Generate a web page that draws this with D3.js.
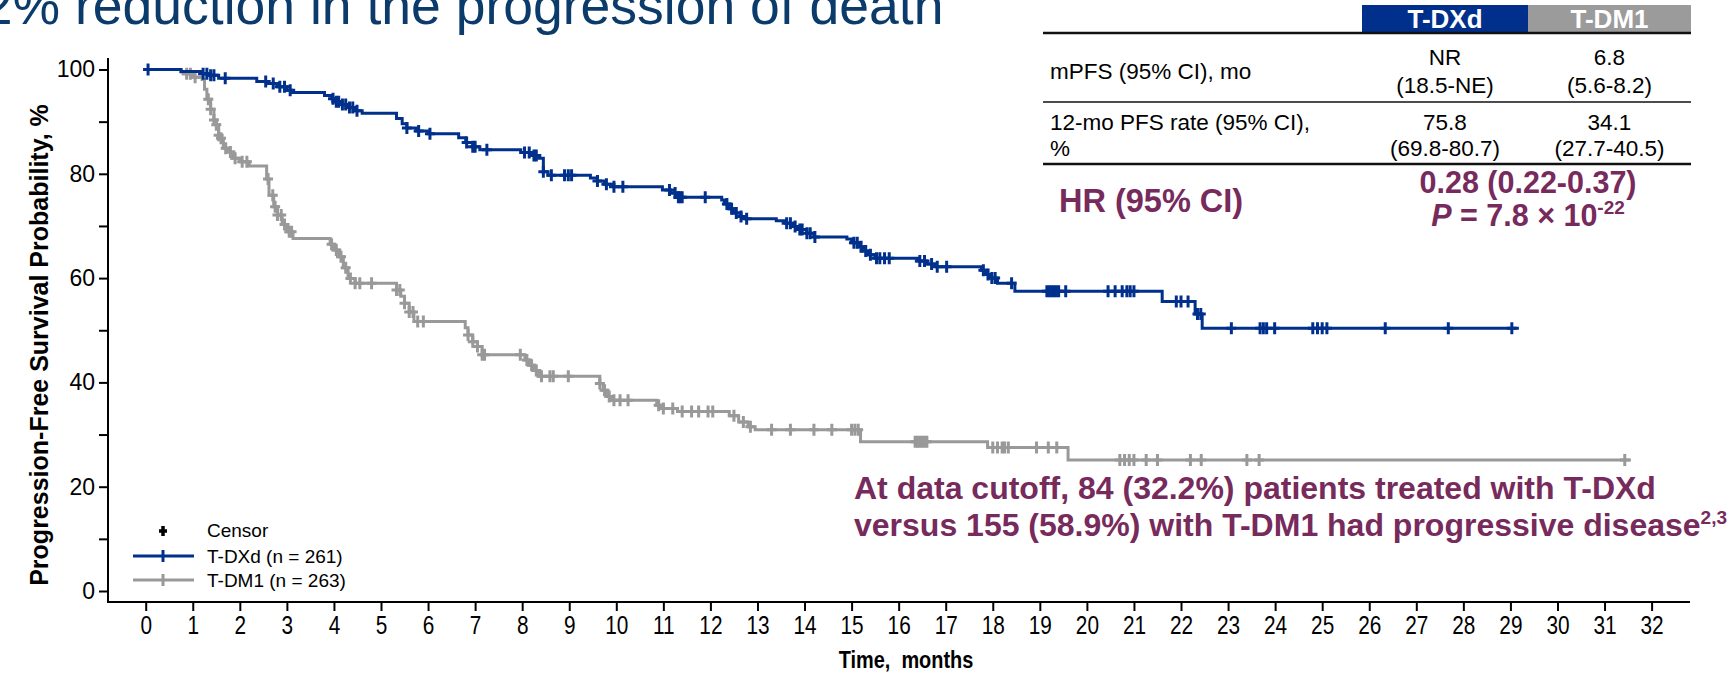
<!DOCTYPE html>
<html>
<head>
<meta charset="utf-8">
<script src="https://cdn.jsdelivr.net/npm/d3@7"></script>
<style>
  html, body { margin: 0; padding: 0; background: #fff; }
  svg { display: block; }
  text { font-family: "Liberation Sans", Arial, Helvetica, sans-serif; }
</style>
</head>
<body>
<svg id="chart" width="1733" height="674"></svg>
<script>
// ---- data -------------------------------------------------------------
const monthTicks = d3.range(0, 33);
const pctTicks = d3.range(0, 101, 10);

const armNames = ["T-DXd", "T-DM1"];
const armLegend = ["T-DXd (n = 261)", "T-DM1 (n = 263)"];

// Kaplan-Meier steps: [month, PFS % after the drop]
const tdxdSteps = [
  [0, 100], [0.75, 99.6], [1.2, 99.2], [1.35, 98.9], [1.55, 98.3], [2.36, 97.7],
  [2.6, 97.3], [2.8, 96.7], [3.0, 96.0], [3.1, 95.6], [3.8, 95.0], [3.95, 94.4],
  [4.05, 93.8], [4.15, 93.3], [4.3, 92.7], [4.45, 92.1], [4.6, 91.6], [5.33, 90.6],
  [5.45, 89.6], [5.55, 88.8], [5.75, 88.2], [6.0, 87.7], [6.65, 86.9], [6.8, 86.0],
  [6.95, 85.2], [7.1, 84.6], [7.97, 84.1], [8.2, 83.5], [8.35, 83.0], [8.45, 80.4],
  [8.55, 79.7], [9.45, 79.2], [9.6, 78.6], [9.75, 78.0], [9.95, 77.5], [10.98, 76.9],
  [11.15, 76.3], [11.3, 75.5], [12.24, 75.0], [12.3, 74.2], [12.4, 73.3], [12.5, 72.5],
  [12.65, 71.8], [12.75, 71.4], [13.4, 71.0], [13.6, 70.5], [13.75, 69.9], [13.9, 69.3],
  [14.05, 68.6], [14.2, 67.9], [14.9, 67.5], [15.0, 66.8], [15.15, 66.0], [15.25, 65.2],
  [15.35, 64.5], [15.5, 63.8], [16.4, 63.3], [16.6, 62.7], [16.8, 62.2], [17.76, 61.5],
  [17.85, 60.7], [17.95, 60.0], [18.1, 59.0], [18.47, 57.5], [21.6, 55.5], [22.3, 53.1],
  [22.45, 50.4]
];
const tdxdEnd = 29.18;
const tdxdCensors = [
  0.05, 1.22, 1.3, 1.38, 1.45, 1.69, 2.55, 2.71, 2.85, 2.95, 3.07, 3.98, 4.05, 4.1,
  4.18, 4.25, 4.33, 4.4, 4.49, 5.55, 5.8, 6.04, 6.82, 6.95, 7.0, 7.25, 8.05, 8.15,
  8.25, 8.3, 8.45, 8.62, 8.9, 8.98, 9.05, 9.6, 9.79, 9.95, 10.14, 11.13, 11.25, 11.32,
  11.36, 11.4, 11.89, 12.35, 12.45, 12.55, 12.65, 12.77, 13.62, 13.7, 13.8, 13.9,
  13.95, 14.05, 14.12, 14.22, 15.05, 15.12, 15.2, 15.3, 15.4, 15.53, 15.6, 15.7, 15.8,
  16.45, 16.55, 16.7, 16.82, 17.02, 17.8, 17.9, 17.98, 18.05, 18.4, 19.15, 19.2,
  19.25, 19.3, 19.35, 19.4, 19.55, 20.45, 20.6, 20.75, 20.85, 20.92, 21.0, 21.9, 22.0,
  22.15, 22.35, 22.42, 23.07, 23.68, 23.75, 23.82, 23.99, 24.8, 24.9, 25.0, 25.1,
  26.34, 27.68, 29.03
];

const tdm1Steps = [
  [0, 100], [0.75, 99.5], [0.8, 99.2], [1.0, 98.5], [1.2, 98.1], [1.25, 96.2],
  [1.3, 94.3], [1.38, 92.4], [1.45, 90.3], [1.5, 89.4], [1.55, 87.4], [1.6, 86.8],
  [1.65, 84.9], [1.75, 84.2], [1.85, 83.0], [2.0, 82.3], [2.2, 81.5], [2.57, 79.0],
  [2.62, 75.9], [2.72, 73.7], [2.8, 72.1], [2.9, 70.3], [3.0, 68.9], [3.13, 67.6],
  [3.92, 66.5], [4.0, 65.4], [4.1, 64.1], [4.2, 62.0], [4.3, 59.9], [4.45, 59.0],
  [5.33, 57.7], [5.42, 56.5], [5.5, 55.2], [5.6, 53.5], [5.7, 51.7], [6.79, 50.5],
  [6.85, 49.1], [6.95, 47.8], [7.05, 46.9], [7.15, 45.3], [8.06, 44.3], [8.15, 43.3],
  [8.25, 42.3], [8.35, 41.2], [9.65, 39.8], [9.72, 38.5], [9.8, 37.3], [9.9, 36.6],
  [10.86, 35.6], [11.0, 35.0], [11.3, 34.4], [12.4, 33.6], [12.6, 32.4], [12.8, 31.5],
  [12.95, 30.9], [15.19, 28.6], [17.89, 27.5], [19.6, 25.1]
];
const tdm1End = 31.56;
const tdm1Censors = [
  0.87, 0.95, 1.05, 1.33, 1.38, 1.45, 1.5, 1.55, 1.6, 1.7, 1.8, 1.9, 2.05, 2.15, 2.6,
  2.7, 2.75, 2.8, 2.88, 2.95, 3.05, 3.1, 3.95, 4.05, 4.15, 4.25, 4.35, 4.45, 4.55, 4.8,
  5.33, 5.4, 5.5, 5.6, 5.68, 5.78, 5.9, 6.85, 6.95, 7.05, 7.15, 7.2, 7.96, 8.1, 8.2,
  8.3, 8.41, 8.59, 8.66, 8.98, 9.65, 9.75, 9.85, 9.95, 10.08, 10.25, 10.9, 11.0, 11.2,
  11.4, 11.6, 11.75, 11.95, 12.05, 12.5, 12.7, 12.85, 13.3, 13.7, 14.2, 14.58, 15.0,
  15.07, 15.14, 16.35, 16.4, 16.45, 16.5, 16.55, 16.6, 18.0, 18.1, 18.2, 18.25, 18.33,
  18.93, 19.18, 19.36, 20.7, 20.8, 20.9, 21.0, 21.26, 21.5, 22.2, 22.43, 23.4, 23.66,
  31.43
];

// summary table
const tableRowLabels = [["mPFS (95% CI), mo"], ["12-mo PFS rate (95% CI),", "%"]];
const tdxdTable = [["NR", "(18.5-NE)"], ["75.8", "(69.8-80.7)"]];
const tdm1Table = [["6.8", "(5.6-8.2)"], ["34.1", "(27.7-40.5)"]];
const hrLabel = "HR (95% CI)";
const hrValue = "0.28 (0.22-0.37)";
const pValue = { lead: "P", mid: " = 7.8 × 10", exp: "-22" };

const titleText = "72% reduction in the progression of death";
const noteLines = ["At data cutoff, 84 (32.2%) patients treated with T-DXd",
                   "versus 155 (58.9%) with T-DM1 had progressive disease"];
const noteRef = "2,3";

// ---- style ----------------------------------------------------------------
const BLUE = "#00308c";
const GREY = "#999999";
const PURPLE = "#772a5c";
const NAVY = "#0b3b6b";
const CONDENSE = 0.8;   // horizontal squeeze for the time-axis lettering

const svg = d3.select("#chart");

const x = d3.scaleLinear().domain([0, 32]).range([145.7, 1651.6]);
const y = d3.scaleLinear().domain([0, 100]).range([591, 69.5]);

// ---- title (runs off the top of the page) ---------------------------------
svg.append("text")
  .attr("x", -47).attr("y", 24)
  .attr("font-size", 53.5).attr("fill", NAVY)
  .text(titleText);

// ---- axes -------------------------------------------------------------
const AX_X = 108, AX_Y = 602;

const gx = svg.append("g").attr("transform", `translate(0,${AX_Y})`)
  .call(d3.axisBottom(x).tickValues(monthTicks).tickSize(9).tickPadding(5).tickFormat(d3.format("d")));
gx.select(".domain").remove();
gx.selectAll(".tick line").attr("stroke", "#000").attr("stroke-width", 2);
gx.selectAll(".tick text").attr("font-size", 26).attr("fill", "#000")
  .attr("transform", `scale(${CONDENSE},1)`);

const gy = svg.append("g").attr("transform", `translate(${AX_X},0)`)
  .call(d3.axisLeft(y).tickValues(pctTicks).tickSize(9).tickPadding(4)
    .tickFormat(d => d % 20 === 0 ? d : ""));
gy.select(".domain").remove();
gy.selectAll(".tick line").attr("stroke", "#000").attr("stroke-width", 2);
gy.selectAll(".tick text").attr("font-size", 23).attr("fill", "#000");

svg.append("line").attr("x1", AX_X).attr("x2", 1690).attr("y1", AX_Y).attr("y2", AX_Y)
  .attr("stroke", "#000").attr("stroke-width", 2);
svg.append("line").attr("x1", AX_X).attr("x2", AX_X).attr("y1", 58).attr("y2", AX_Y + 1)
  .attr("stroke", "#000").attr("stroke-width", 2);

svg.append("text")
  .attr("transform", `translate(906,668) scale(${CONDENSE + 0.03},1)`)
  .attr("text-anchor", "middle")
  .attr("font-weight", "bold").attr("font-size", 24)
  .style("white-space", "pre")
  .text("Time,  months");

svg.append("text")
  .attr("transform", "translate(48,345) rotate(-90)")
  .attr("text-anchor", "middle").attr("font-weight", "bold").attr("font-size", 25)
  .text("Progression-Free Survival Probability, %");

// ---- curves -------------------------------------------------------------
function levelAt(steps, t) {
  let v = steps[0][1];
  for (const s of steps) { if (s[0] <= t) v = s[1]; else break; }
  return v;
}
const stepLine = d3.line().x(d => x(d[0])).y(d => y(d[1])).curve(d3.curveStepAfter);

const series = [
  { steps: tdm1Steps, end: tdm1End, censors: tdm1Censors, color: GREY },
  { steps: tdxdSteps, end: tdxdEnd, censors: tdxdCensors, color: BLUE }
];

function censorPath(cx, cy, h, w) {
  return `M${cx},${cy - h}V${cy + h}M${cx - w},${cy}H${cx + w}`;
}

series.forEach(s => {
  const pts = s.steps.concat([[s.end, s.steps[s.steps.length - 1][1]]]);
  svg.append("path").datum(pts)
    .attr("d", stepLine)
    .attr("fill", "none").attr("stroke", s.color).attr("stroke-width", 3);
  svg.append("g").selectAll("path").data(s.censors).join("path")
    .attr("d", t => censorPath(x(t), y(levelAt(s.steps, t)), 6, 5))
    .attr("stroke", s.color).attr("stroke-width", 3).attr("fill", "none");
});

// ---- legend ---------------------------------------------------------------
const lg = svg.append("g");
lg.append("path").attr("d", censorPath(163, 531, 5, 4))
  .attr("stroke", "#000").attr("stroke-width", 3.5);
lg.append("text").attr("x", 207).attr("y", 537).attr("font-size", 19).text("Censor");
[BLUE, GREY].forEach((c, i) => {
  const ly = 556 + i * 24;
  lg.append("line").attr("x1", 133).attr("x2", 194).attr("y1", ly).attr("y2", ly)
    .attr("stroke", c).attr("stroke-width", 3);
  lg.append("path").attr("d", censorPath(163, ly, 6, 0))
    .attr("stroke", c).attr("stroke-width", 3);
  lg.append("text").attr("x", 207).attr("y", ly + 7).attr("font-size", 19).text(armLegend[i]);
});

// ---- summary table ----------------------------------------------------------
const tb = svg.append("g");
const colL = 1043, colA = 1362, colB = 1528, colR = 1691;
const headerFill = [BLUE, "#9b9b9b"];
[[colA, colB], [colB, colR]].forEach((c, i) => {
  tb.append("rect").attr("x", c[0]).attr("y", 5).attr("width", c[1] - c[0]).attr("height", 27)
    .attr("fill", headerFill[i]);
  tb.append("text").attr("x", (c[0] + c[1]) / 2).attr("y", 28)
    .attr("text-anchor", "middle").attr("font-weight", "bold").attr("font-size", 26)
    .attr("fill", "#fff").text(armNames[i]);
});
[[33, 2.5], [102, 1.5], [164, 2.5]].forEach(r => {
  tb.append("line").attr("x1", colL).attr("x2", colR).attr("y1", r[0]).attr("y2", r[0])
    .attr("stroke", "#111").attr("stroke-width", r[1]);
});
const rowBase = [[65, 93], [130, 156]];
const labelBase = [[79], [130, 156]];
tableRowLabels.forEach((lines, r) => {
  lines.forEach((t, k) => tb.append("text").attr("x", 1050).attr("y", labelBase[r][k])
    .attr("font-size", 22.5).text(t));
});
[tdxdTable, tdm1Table].forEach((col, c) => {
  const cx = c === 0 ? (colA + colB) / 2 : (colB + colR) / 2;
  col.forEach((lines, r) => lines.forEach((t, k) => tb.append("text")
    .attr("x", cx).attr("y", rowBase[r][k]).attr("text-anchor", "middle")
    .attr("font-size", 22.5).text(t)));
});
tb.append("text").attr("x", 1059).attr("y", 212)
  .attr("font-weight", "bold").attr("font-size", 32.5).attr("fill", PURPLE).text(hrLabel);
tb.append("text").attr("x", colB).attr("y", 193).attr("text-anchor", "middle")
  .attr("font-weight", "bold").attr("font-size", 30.5).attr("fill", PURPLE).text(hrValue);
const pt = tb.append("text").attr("x", colB).attr("y", 226).attr("text-anchor", "middle")
  .attr("font-weight", "bold").attr("font-size", 30.5).attr("fill", PURPLE);
pt.append("tspan").attr("font-style", "italic").text(pValue.lead);
pt.append("tspan").text(pValue.mid);
pt.append("tspan").attr("font-size", 19).attr("dy", -12).text(pValue.exp);

// ---- annotation ------------------------------------------------------------
const note = svg.append("g");
noteLines.forEach((t, i) => {
  const tx = note.append("text").attr("x", 854).attr("y", 499 + i * 37)
    .attr("font-weight", "bold").attr("font-size", 32).attr("fill", PURPLE).text(t);
  if (i === 1) tx.append("tspan").attr("font-size", 19).attr("dy", -12).text(noteRef);
});
</script>
</body>
</html>
